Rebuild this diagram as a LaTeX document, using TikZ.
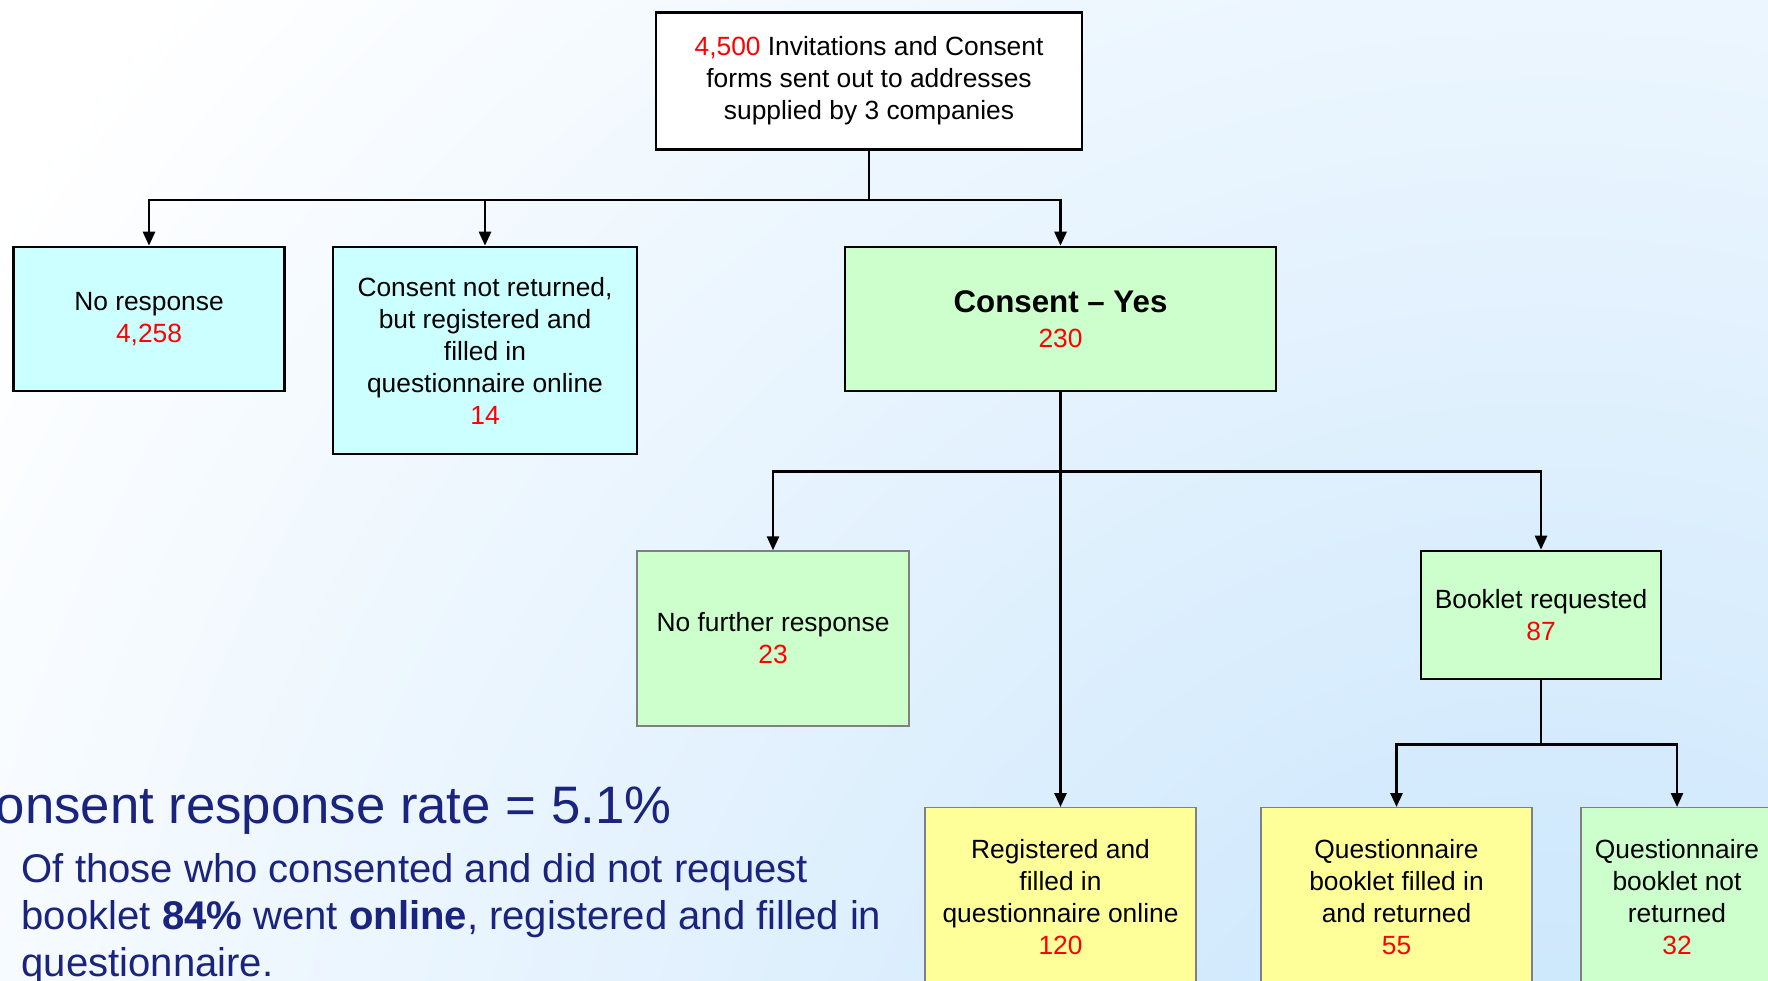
\documentclass[tikz,border=0pt]{standalone}
\usepackage{fontspec}
\setmainfont{Liberation Sans}
\usetikzlibrary{arrows.meta}
\definecolor{cyanbox}{RGB}{204,255,255}
\definecolor{greenbox}{RGB}{204,255,204}
\definecolor{yellowbox}{RGB}{255,255,153}
\definecolor{numred}{RGB}{255,0,0}
\definecolor{navy}{RGB}{26,35,126}
\definecolor{bgblue}{RGB}{198,228,252}
\newcommand{\cnt}[1]{\textcolor{numred}{#1}}
\tikzset{
  box/.style={draw=black, line width=0.75pt, align=center, inner sep=2pt,
    font=\fontsize{7.5}{9.1}\selectfont},
  softbox/.style={box, draw=black!50, line width=0.4pt},
  arr/.style={line width=0.75pt, -{Triangle[length=1.4mm,width=1.2mm]}},
}

\begin{document}
\begin{tikzpicture}
    \useasboundingbox (0,0) rectangle (17.68,9.8);
    \begin{scope}
        \clip (0,0) rectangle (17.68,9.8);
        \fill[white] (0,0) rectangle (17.68,9.8);
        \shade[inner color=bgblue, outer color=white] (15.5,-2.5) circle (18.5);
    \end{scope}
    \node[box, fill=white, minimum width=4.26cm, minimum height=1.37cm] (invite) at (8.69,8.99)
        {\cnt{4,500} Invitations and Consent\\forms sent out to addresses\\supplied by 3 companies};
    \node[box, fill=cyanbox, minimum width=2.71cm, minimum height=1.44cm] (nores) at (1.49,6.61)
        {No response\\\cnt{4,258}};
    \node[box, fill=cyanbox, minimum width=3.04cm, minimum height=2.07cm] (notret) at (4.85,6.295)
        {Consent not returned,\\but registered and\\filled in\\questionnaire online\\\cnt{14}};
    \node[box, fill=greenbox, minimum width=4.31cm, minimum height=1.44cm] (yes) at (10.605,6.61)
        {{\fontsize{8.9}{10}\selectfont\bfseries Consent -- Yes}\\[1pt]\cnt{230}};
    \node[softbox, fill=greenbox, minimum width=2.72cm, minimum height=1.75cm] (nofurther) at (7.73,3.415)
        {No further response\\\cnt{23}};
    \node[box, fill=greenbox, minimum width=2.40cm, minimum height=1.28cm] (booklet) at (15.41,3.65)
        {Booklet requested\\\cnt{87}};
    \node[softbox, fill=yellowbox, anchor=north, minimum width=2.71cm, minimum height=1.78cm] (online) at (10.605,1.73)
        {Registered and\\filled in\\questionnaire online\\\cnt{120}};
    \node[softbox, fill=yellowbox, anchor=north, minimum width=2.71cm, minimum height=1.78cm] (filled) at (13.965,1.73)
        {Questionnaire\\booklet filled in\\and returned\\\cnt{55}};
    \node[softbox, fill=greenbox, anchor=north, minimum width=1.92cm, minimum height=1.78cm] (notbk) at (16.77,1.73)
        {Questionnaire\\booklet not\\returned\\\cnt{32}};
    \draw[arr] (invite.south) -- ++(0,-0.49) -| (nores.north);
    \draw[arr] (invite.south) -- ++(0,-0.49) -| (notret.north);
    \draw[arr] (invite.south) -- ++(0,-0.49) -| (yes.north);
    \draw[arr] (yes.south) -- (online.north);
    \draw[arr] (yes.south) -- ++(0,-0.79) -| (nofurther.north);
    \draw[arr] (yes.south) -- ++(0,-0.79) -| (booklet.north);
    \draw[arr] (booklet.south) -- ++(0,-0.64) -| (filled.north);
    \draw[arr] (booklet.south) -- ++(0,-0.64) -| (notbk.north);
    \node[anchor=base west, inner sep=0, text=navy, font=\fontsize{15}{18}\selectfont] (rate) at (-0.43,1.57)
        {Consent response rate = 5.1\%};
    \node[anchor=north west, inner sep=0, align=left, text=navy, font=\fontsize{11.4}{13.4}\selectfont] (note) at (0.21,1.27)
        {Of those who consented and did not request\\booklet \textbf{84\%} went \textbf{online}, registered and filled in\\questionnaire.};
\end{tikzpicture}
\end{document}
